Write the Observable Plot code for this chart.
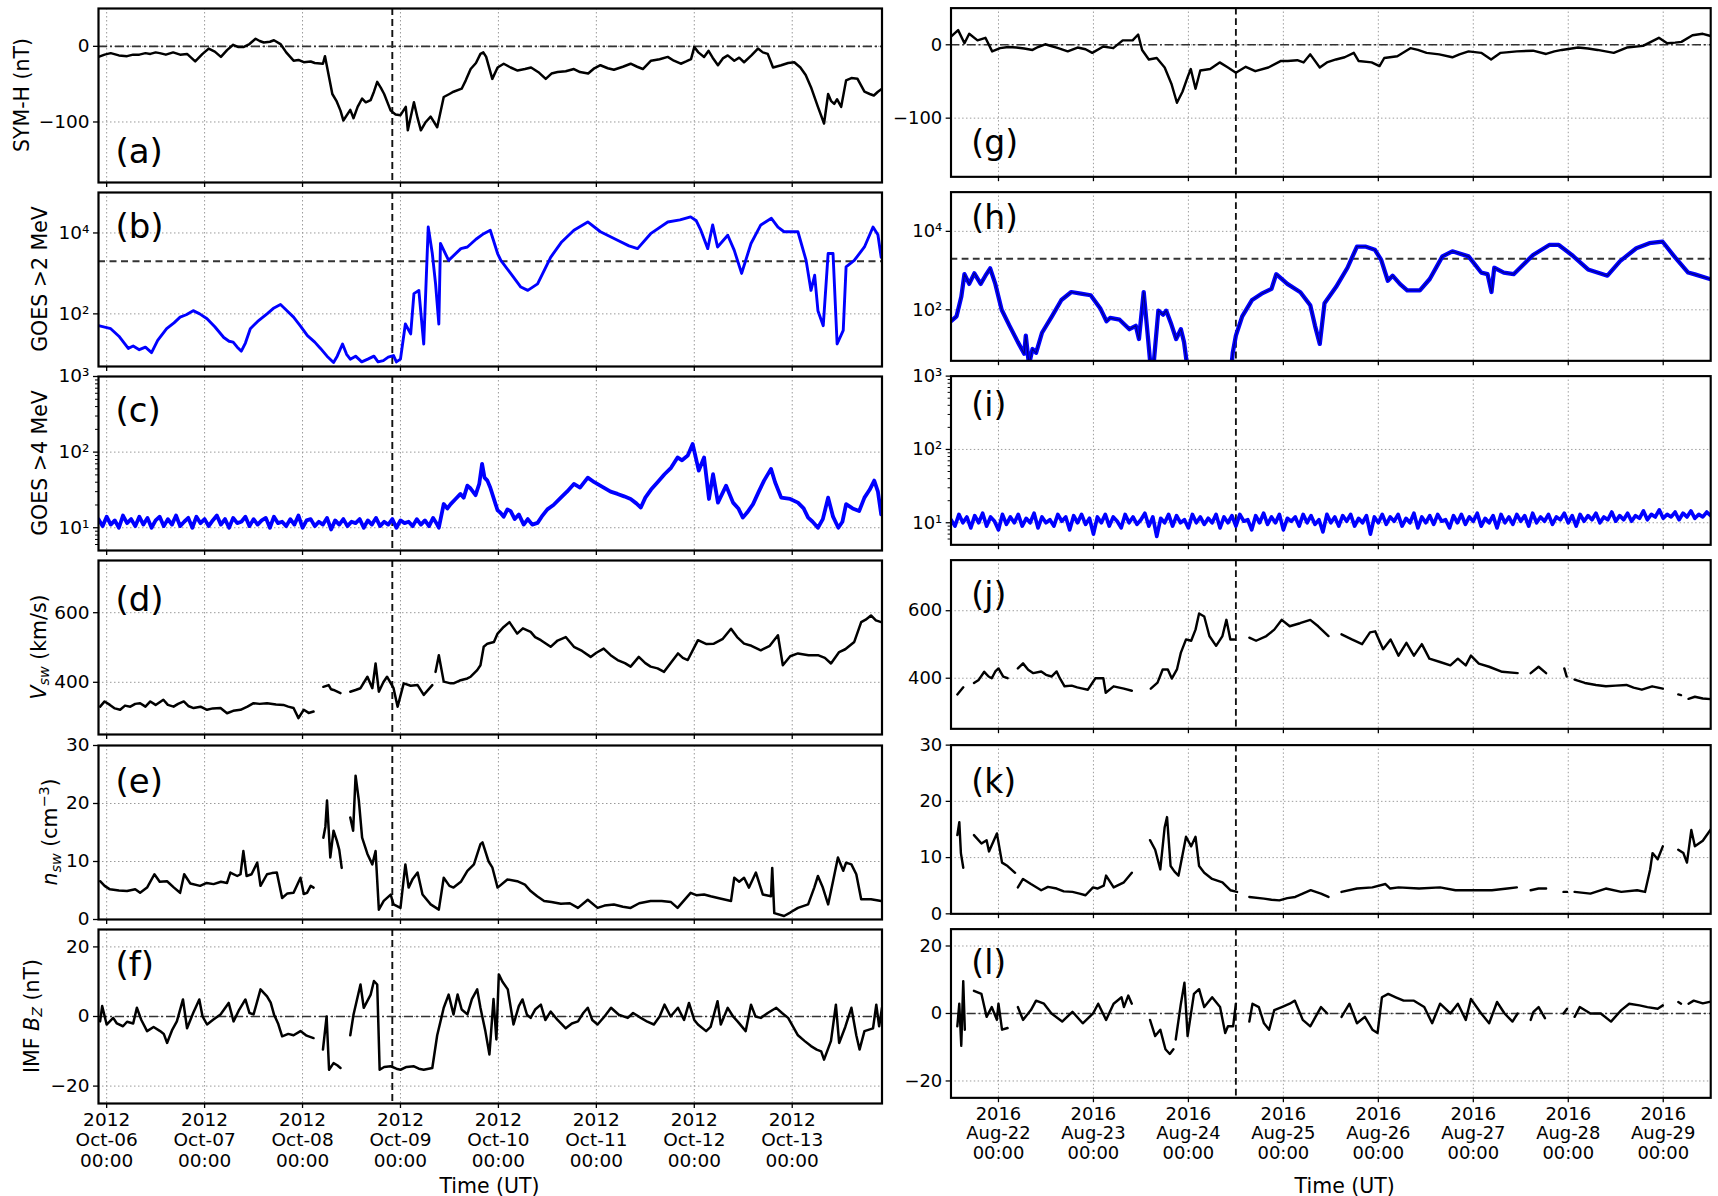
<!DOCTYPE html>
<html><head><meta charset="utf-8">
<script src="https://cdn.jsdelivr.net/npm/d3@7"></script>
<script src="https://cdn.jsdelivr.net/npm/@observablehq/plot@0.6"></script>
<style>
html,body{margin:0;padding:0;background:#fff;}
body{width:1718px;height:1196px;overflow:hidden;position:relative;font-family:"DejaVu Sans",sans-serif;color:#000;}
.panel{position:absolute;}
.ylab{position:absolute;white-space:nowrap;font-size:20.5px;line-height:1;transform:translate(-50%,-50%) rotate(-90deg);}
.xlab{position:absolute;white-space:nowrap;font-size:20.5px;line-height:1;transform:translate(-50%,-50%);}
sub{font-size:0.7em;vertical-align:-0.25em;}
sup{font-size:0.7em;vertical-align:0.55em;}
</style></head><body>
<script>
// ---------- time windows (hours are counted from the window start) ----------
const start2012 = Date.UTC(2012, 9, 5, 22);
const start2016 = Date.UTC(2016, 7, 21, 12);
const windowHours = 192;
const eventHour = 72;

// ---------- y labels / panel letters ----------
const yLabels = ["SYM-H (nT)", "GOES &gt;2 MeV", "GOES &gt;4 MeV", "<i>V</i><sub><i>sw</i></sub> (km/s)", "<i>n</i><sub><i>sw</i></sub> (cm<sup>\u22123</sup>)", "IMF <i>B</i><sub><i>Z</i></sub> (nT)"];
const lettersLeft = ["(a)", "(b)", "(c)", "(d)", "(e)", "(f)"];
const lettersRight = ["(g)", "(h)", "(i)", "(j)", "(k)", "(l)"];

// ---------- 2012 event: [hour, value] ----------
const symH_2012 = [[0,-14],[1.5,-11],[3,-9],[5,-12],[7,-13],[8.5,-11],[10,-11],[11.5,-9],[12.7,-10],[14,-8],[15,-9],[16.5,-11],[18.3,-8],[20,-11],[21.7,-10],[23.7,-20],[25.5,-10],[27,-3],[28.5,-7],[30,-14],[31.5,-5],[33,2],[34.3,-1],[35.5,-1],[37,3],[38.5,10],[39.5,7],[40.5,5],[42,6],[43,8],[44.6,3],[46,-8],[47.8,-19],[49,-18],[50.3,-21],[52,-20],[53,-22],[55,-23],[55.5,-13],[57.3,-63],[58.3,-72],[59.3,-85],[60,-98],[61.7,-84],[62.5,-95],[63.5,-80],[64.6,-69],[65.5,-74],[66.7,-71],[67.5,-60],[68.3,-47],[69.2,-55],[70,-63],[71.6,-85],[72.8,-90],[74,-91],[75.3,-80],[75.8,-111],[77.3,-74],[78.2,-95],[79,-111],[80.2,-100],[81.4,-93],[83,-107],[84.6,-67],[86,-63],[87,-60],[89,-56],[90,-45],[91.2,-30],[92.5,-22],[93.6,-10],[94.3,-8],[95,-14],[96.5,-43],[97.8,-28],[99.3,-23],[101,-28],[102.7,-32],[104.5,-30],[106,-28],[108,-35],[109.6,-43],[111,-36],[112.5,-34],[114.5,-33],[116.5,-30],[118,-34],[120,-36],[121.5,-29],[123,-25],[124.8,-29],[126.3,-31],[128.5,-27],[130.4,-23],[132,-27],[133.4,-30],[135.4,-19],[137.5,-17],[139.5,-14],[141,-19],[142.7,-23],[144,-20],[145.2,-17],[146,-1],[147,-8],[148.4,-14],[149.5,-6],[150.5,-15],[151.8,-25],[153,-16],[154.2,-12],[155.8,-19],[157,-15],[158.2,-21],[160,-12],[161.6,-3],[162.8,-8],[164,-10],[165.3,-28],[167.3,-25],[169,-22],[170.5,-21],[172,-28],[173.3,-38],[174.6,-54],[176.3,-80],[177.8,-102],[178.8,-63],[179.5,-72],[180.3,-76],[181,-70],[182,-80],[183.2,-45],[184.5,-42],[186,-43],[187.7,-60],[189,-63],[190,-65],[191,-60],[192,-56]];

const goes2_2012 = [[0,51],[1.5,47],[3,43],[5,28],[7.3,14],[8.5,16],[10,13],[11.5,15],[13,11],[14.5,22],[16.7,43],[18.5,60],[20,83],[21.5,95],[23.2,120],[24.8,100],[26.6,76],[28.5,48],[30.7,26],[32,21],[33,20],[34,15],[35,12],[36,19],[37.2,43],[39,65],[41.3,100],[43,140],[44.6,170],[46,125],[47.8,83],[49.5,50],[51.2,29],[53,20],[54.4,14],[56,9],[57.6,6.3],[58.5,9],[59.8,18],[60.8,10],[61.7,7.6],[63,9],[64.5,6.5],[66,7.6],[67.5,9],[68.5,6.5],[69.8,7],[71,8.5],[72.3,9.3],[73,6.5],[74,7.6],[75.2,56],[76.5,32],[77.3,316],[78.5,380],[79.7,18],[80.8,14000],[81.8,3100],[82.6,550],[83.4,56],[83.8,5500],[85.8,2100],[88.8,4100],[90.4,4500],[92.5,7000],[94.4,9600],[96,11700],[97.8,3100],[98.6,2100],[101,1000],[103.5,460],[105.2,380],[107.6,550],[110.8,2500],[113.5,6000],[116.5,11700],[119.9,18700],[123,10700],[127.2,6600],[130,4800],[132.1,4100],[135.3,9600],[139.5,18700],[142.5,21000],[145.1,25000],[146.5,20000],[147.6,11700],[149.3,4100],[150.5,15800],[151.7,4500],[154.2,8800],[155.8,3700],[157.6,1000],[159.9,5500],[162.3,15800],[164.9,23000],[166.5,14000],[168,10700],[171.4,10700],[173.4,2100],[174.6,380],[175.5,900],[176.3,120],[177.6,51],[178.8,3100],[180,3100],[181,18],[182.5,39],[183.2,1450],[185.2,2100],[187.7,4500],[189.8,14000],[191,9000],[191.8,2500]];

// hourly values from hour 0 to 83 (quiet, noisy part)
const goes4_2012_quiet = [13,10.5,14,11,12.5,10,14.5,11.5,13,10.5,14,11,13.5,10,12.5,14,10.5,13,11,14.5,10.5,12,13.5,10,14,11.5,13,10.5,12.5,14.5,11,13,10,13.5,11.5,12,14,10.5,13,11,12.5,13.5,10,14,11.5,12,10.5,13,11,14.5,10,12.5,13,10.5,12,11,13.5,9.5,12.5,11,13,10.5,12,11.5,13,10,12.5,11,13.5,10.5,12,11,13,10,12.5,11.5,12,10.5,13,11,12.5,10.5,13.5,11];
const goes4_2012_active = [[83.4,10],[84.6,20.6],[85.5,18],[86.3,20.5],[87.5,24],[88.7,28],[89.5,25],[90.4,36],[91.2,33],[92.4,27],[93.3,38],[94,70],[94.6,46],[95.3,42],[96,34],[97.3,20.5],[97.8,17],[98.5,15.8],[99.3,14],[100.2,17.5],[101,16.6],[102,13],[103,15],[104.2,11],[105.2,13],[106.3,11],[107.6,11.6],[108.6,14],[110,17.5],[111.5,20],[113.3,25],[114.8,30],[116.5,38],[118,34],[119.9,46],[121.5,40],[123.8,34],[125.5,30],[127.2,28],[128.8,26],[130.4,24],[131.8,21],[132.9,18.5],[134,25],[135.4,32],[137,40],[138.7,51],[140.3,62],[141.9,85],[143,78],[144.4,90],[145.6,128],[147.1,57],[148.4,85],[149.6,24],[150.6,51],[151.8,21.5],[153.8,36],[155.5,21.5],[156.8,18],[157.9,13.6],[159,16],[160.4,20.5],[161.8,30],[163.1,42],[164.8,60],[165.8,40],[167.3,25],[169.5,24],[171.4,21.5],[172.8,18],[173.9,13.6],[175,12],[176.3,10],[177.5,13],[178.8,25],[180,14],[181.3,10],[182.3,12],[183.2,20.5],[184.8,18],[186.4,16.6],[187.7,25],[189,32],[190.1,42],[191,30],[191.8,15]];

const vsw_2012 = [[0.4,330],[1.5,345],[2.8,335],[4,325],[5.3,321],[6.5,333],[7.8,330],[9,338],[10.2,340],[11.5,330],[12.7,345],[14,335],[15.9,350],[17,335],[18.4,330],[19.5,338],[20.9,345],[22,332],[23.3,326],[25,330],[26.6,321],[28,325],[29.9,326],[31.5,311],[33,318],[34.8,321],[36.5,330],[38,340],[39.5,338],[41.3,340],[43.5,336],[45.3,335],[46.5,330],[47.8,326],[49,297],[50.3,321],[51.5,312],[52.7,316],[53.5,null],[55.1,387],[56.4,392],[57,380],[57.6,378],[59.3,369],[60.2,null],[61.7,373],[63,378],[64.2,383],[65.9,416],[67.1,383],[67.9,454],[68.7,373],[69.8,400],[70.7,416],[72.3,383],[73.3,330],[74.8,397],[76.5,390],[78.2,392],[79.7,364],[81.8,392],[82.2,null],[82.6,430],[83.4,478],[84.6,402],[86.3,397],[87,397],[88.5,405],[90.4,411],[91.2,416],[92.8,435],[93.6,449],[94.4,502],[95.3,511],[96.9,516],[97.8,540],[99.3,559],[100.7,573],[102.6,540],[104,555],[105.9,545],[107,530],[108.4,521],[110.8,502],[112.5,520],[114.5,530],[116.5,502],[118.5,490],[120.6,473],[122,485],[123.8,497],[125.5,478],[127.2,464],[129,455],[130.4,445],[132.4,473],[134,455],[135.3,445],[137,440],[138.6,430],[140.5,460],[142,483],[143.2,470],[144.4,464],[146.9,521],[149,510],[150.8,511],[153,525],[155,554],[156.5,530],[158.2,511],[160,505],[162.3,492],[164.5,505],[166.5,535],[167.7,449],[169.5,475],[171.4,483],[174,478],[176.3,478],[178,470],[179.5,454],[181.5,487],[183,495],[185.2,516],[186.9,573],[188,580],[189.3,592],[190.5,578],[191.8,573]];

const nsw_2012 = [[0.4,6.6],[1.5,5.8],[2.8,5.2],[5,5],[7,4.9],[9,5.2],[10.2,4.6],[11.9,5.5],[13.7,7.8],[15,6.5],[16.8,6.6],[18.5,5.5],[20,4.6],[21,7.8],[22.5,6.2],[24.9,5.8],[26.5,6.3],[28.2,6.1],[30,6.5],[31.5,6.3],[32.3,8.1],[34,7.5],[34.8,7.8],[35.5,11.8],[36.3,7.5],[37.5,7.8],[38.9,9.8],[39.7,5.8],[41.3,7.8],[42.5,8],[43.7,8.1],[45,3.7],[46.3,4.5],[47.8,4.6],[49.5,7.2],[50.3,4.4],[51.1,4.6],[52,5.8],[52.7,5.5],[53.5,null],[55.1,14.1],[55.6,16],[56,20.5],[56.8,10.7],[57.6,15.3],[58.4,13.6],[59,12],[59.6,8.9],[60.2,null],[61.7,17.6],[62.4,15.3],[63,24.8],[63.8,20.5],[64.6,14.1],[65.9,11.3],[67.1,9.5],[67.9,11.8],[68.7,1.7],[69.9,3.2],[71.6,4.3],[72.3,2.6],[74,2],[75.2,9.5],[76,5.5],[77,7],[78.2,8.1],[79.4,4.3],[81.4,2.6],[83.4,1.7],[84.6,7.2],[86,5.8],[87,5.5],[88.8,6.5],[90.4,8.4],[92,9.5],[93.6,13],[94.1,13.3],[95.6,10],[96.5,9],[97.8,5.5],[100.2,6.9],[102.6,6.6],[104.5,6],[105.9,4.9],[107.5,4],[109.2,3.2],[111,3],[113.3,2.7],[115.5,2.8],[117.5,2],[119.9,3.4],[122.3,2],[124,2.4],[126.3,2.6],[128.5,2.2],[130.4,2],[132.5,2.8],[135.3,3.2],[138,3.2],[140.3,3],[141.9,2],[145.1,4.6],[146.5,4.2],[148.4,4.3],[150,4],[151.8,3.7],[155,3.2],[155.8,7.2],[157,6.5],[158.2,7.2],[159.4,5.5],[161.1,8.1],[162.8,4.3],[164.8,4],[165.1,8.9],[165.6,1.1],[168,0.6],[169.5,1.2],[171.4,2],[173.9,2.6],[175.4,5.5],[176.3,7.5],[177.5,5.5],[178.8,2.6],[180,6.6],[181.2,10.7],[182.5,8.4],[183.2,9.8],[184.5,9.5],[185.7,7.8],[186.9,3.5],[189.3,3.5],[191.8,3.2]];

const bz_2012 = [[0.4,-1.4],[0.9,3],[2,-2.3],[3.6,-0.4],[4.5,-2],[6,-2.8],[7,-1.5],[8.5,-2],[9.4,2.5],[10.5,-1],[11.9,-4.2],[13.5,-3],[15.1,-4.2],[16,-5],[16.8,-7.6],[18,-4],[19.2,-1.4],[20.7,4.9],[21.7,-3.4],[23.2,1],[24.7,4.9],[25.5,0],[26.6,-2.3],[28,-1],[29.9,0.6],[31.9,3.9],[33.1,-1.4],[34.5,2],[36,4.9],[37,1],[38,0.6],[39.7,7.8],[41.3,5.8],[42.2,4],[43,0.6],[44,-2],[45,-5.7],[46.5,-5],[47.8,-5.4],[49.5,-4.2],[51,-5.5],[52.7,-6.2],[53.5,null],[55,-9.5],[55.9,0],[56.5,-15.3],[57.6,-13.4],[58.5,-14],[59.3,-14.8],[60.2,null],[61.7,-5.4],[62.5,0.6],[64.2,9.2],[65,2.5],[66.7,6.3],[67.5,10.2],[68.3,9.2],[68.9,-15.3],[70,-14.5],[71.6,-14.3],[73,-15],[74,-15.3],[75.5,-14.5],[77.3,-14.3],[78.5,-15],[79.7,-15.3],[81.8,-14.8],[83,-5.4],[84.6,2.5],[85.8,6.3],[87,0.6],[88,6.3],[89,2],[90.4,0.6],[91.5,5],[92.8,7.8],[93.6,2.5],[94.8,-4.2],[95.8,-10.9],[96.8,5],[97.5,-6.6],[98.1,12.1],[99,10],[100.3,7.8],[101.7,-2.3],[103,3],[103.9,4.9],[105,0.5],[105.9,-0.4],[107,2],[108.4,3.4],[109.5,-1],[110.8,1.4],[112.5,-1],[114.5,-3.4],[116,-2],[117.5,-1.4],[118.8,1],[119.9,2.5],[121,-1],[122.3,-2.3],[124,0],[125.6,2.5],[127.5,0.5],[129.7,-0.4],[131,1],[132.9,-0.4],[134.5,-1.5],[136.1,-2.3],[137.5,0],[138.7,3.4],[140.2,0],[142,2.5],[143.5,-1],[144.7,3.9],[146,-1],[146.9,-2.3],[148.9,-4.2],[150,-3],[151.7,4.4],[152.5,-2.3],[154.2,2.5],[155.5,0],[156.6,-1.4],[158.6,-4.2],[159.9,3.4],[161,0],[162.3,-0.4],[164,1],[166.1,2.5],[167.5,1],[169,-0.4],[171.4,-5.4],[173,-7],[174.6,-8.5],[176,-9.5],[177.1,-10],[177.8,-12.4],[179.5,-7],[180.7,3.4],[181.5,-7.6],[183,-3],[184.5,2.5],[185.7,-5.4],[186.5,-9.5],[187.7,-4.2],[189.8,-3.4],[190.6,3.4],[191.3,-2.8],[192,2.5]];

// ---------- 2016 event: [hour, value] ----------
const symH_2016 = [[0,11],[1.8,20],[3.4,2],[4.6,15],[6.7,6],[8.7,9.5],[10.4,-9],[12.4,-4.6],[14.5,-3],[16.5,-3.7],[18.5,-5],[20.6,-7],[22,-3],[23.8,0.7],[25.5,-2],[27.1,-4.6],[29.5,-9],[32,-3.7],[34,-6],[35.7,-11],[38.5,-2.4],[41,-4.6],[43.4,6],[45.9,6],[47.3,14],[48.3,-7],[50,-20],[52,-18],[54,-31],[55.7,-53],[57.1,-79],[58.5,-64],[59.8,-44],[60.6,-33],[61.8,-60],[63,-35],[65.5,-33],[67.9,-24],[70,-31],[72,-38],[74.5,-30],[76.9,-36],[80.2,-31],[83.4,-22],[85.1,-22],[87.5,-21],[89.1,-24],[90.8,-13],[93.2,-31],[95,-24],[97.3,-20],[99.5,-17],[101.8,-11],[103,-22],[106.3,-24],[108.3,-29],[109.5,-18],[112.8,-15.6],[116.1,-4.6],[118,-7],[120.2,-11],[123.4,-13],[126.7,-17],[128.5,-13],[130.8,-9],[134,-11],[136.5,-20],[138.9,-11],[141,-10],[143,-9],[147.1,-8],[150.4,-12.5],[152.5,-9],[154.4,-7],[158.5,-3.7],[161,-5],[163.4,-7],[167.5,-11],[170.8,-3.7],[174.9,-1.5],[178.9,9.5],[181,2],[183,3],[184.6,4],[187.4,13],[190,15],[192,12]];

const goes2_2016 = [[0,51],[1.4,68],[2.6,214],[3.4,810],[4.6,457],[5.9,850],[7.5,457],[8.7,740],[9.9,1140],[11.2,457],[12.8,100],[14.8,39],[16.9,15],[18.5,7.6],[18.9,22],[19.7,4],[20.6,10],[21.5,8],[23,26],[25.5,68],[27.9,178],[30.4,284],[32.8,258],[35.3,235],[37.7,110],[39.3,51],[40.2,62],[42.6,56],[45.1,32],[46.7,39],[47.5,18],[48.7,284],[49.5,39],[50.4,4],[51.2,4],[52.4,95],[53.6,75],[54.4,95],[55.7,42],[56.9,18],[58.1,32],[58.9,15],[59.8,3],[70.8,3],[71.2,8],[72,22],[73.6,68],[76.1,178],[78.5,258],[81,343],[82.2,810],[85,457],[88.3,280],[90.8,130],[92,39],[93.2,13.5],[94.4,146],[97.3,380],[100.2,1180],[102.6,4100],[104.7,4100],[107.1,3400],[108.7,1900],[110.4,550],[111.6,740],[113.5,450],[115.3,314],[118.5,314],[121,610],[124.2,2300],[126.7,3100],[130.8,2300],[134,890],[135.6,810],[136.6,284],[137.3,1180],[139.7,890],[142.2,810],[147.1,2500],[151.2,4500],[153.6,4500],[156.9,2500],[161,1070],[165.9,740],[169.1,1740],[173.2,3700],[176.5,5000],[179.8,5500],[183.1,2100],[186.3,890],[188,800],[192,600]];

// hourly values from hour 0 to 192
const goes4_2016 = [11,9,13,10,12,8.5,12.5,10,13.5,9, 12,10.5,8,13,9.5,12,10,13,9,11.5, 10,13.5,8.5,12,10,11,9,13,10.5,12, 8,12.5,10,13,9.5,11.5,7,12,10,13, 9,12,10.5,8.5,13,10,12,9.5,11,13.5, 9,12,6.5,11.5,10,13,9,12.5,10,11, 8.5,13,10,12,9.5,11.5,10,13,8.5,12, 10,12.5,9,13,10.5,11,8,12.5,10,13.5, 9.5,12,10,13,8,11.5,10.5,12,9,13, 10,12.5,9.5,11,7.5,13,10,12,9,12.5, 10.5,13,9,11.5,10,12.5,7,12,10,13, 9.5,12,10.5,13,9,11.5,10,13.5,8.5,12, 10,12.5,9.5,13,10.5,11,8.5,12.5,10,13, 9.5,12,10.5,13.5,9,11.5,10,12.5,8.5,13, 10,12,9.5,13,10.5,12.5,9,13.5,10,12, 10.5,13,9.5,12,11,13.5,10,12.5,9,13, 10.5,12.5,11,13.5,10,12,11,14,10.5,12.5, 11,13.5,10.5,12.5,11.5,14.5,11,13,12,15, 11.5,13,12,14,11,13.5,12,14.5,11.5,13, 12,14,12.5];

const vsw_2016 = [[1.6,352],[3.1,373],[3.8,null],[5.8,386],[7,395],[8.4,419],[9.5,405],[10.3,400],[11.2,420],[12,429],[13.2,405],[14.3,400],[15.5,null],[16.9,429],[18.2,444],[19.5,425],[20.8,415],[22.8,420],[24,410],[25.4,405],[26.7,420],[27.5,400],[28.7,376],[30.5,378],[31.9,373],[33,370],[34.6,366],[36.5,400],[38.5,400],[39.1,357],[41.1,376],[43.7,369],[45.7,363],[46.5,null],[50.5,369],[52.2,387],[53.5,426],[54.8,426],[55.8,399],[57.1,426],[58.1,476],[59.4,515],[60.7,511],[61.8,544],[62.7,592],[64,583],[65.3,525],[67,496],[68.6,525],[69.6,573],[70.6,515],[71.6,515],[72.5,null],[75.4,520],[77.1,511],[79.7,525],[81.7,544],[83.6,573],[85.6,554],[88.2,563],[90.8,573],[92.8,554],[95.4,525],[96.5,null],[98.7,530],[101.3,515],[103.9,501],[105.9,536],[107.2,539],[109.2,486],[111.1,515],[113.1,467],[115.1,505],[117,467],[119,501],[120.9,458],[123.6,448],[126.2,438],[128.1,458],[130.1,438],[131.4,467],[133.4,443],[136,434],[139.3,419],[143.2,415],[144,null],[146.5,415],[148.5,434],[150.4,415],[151,null],[155,429],[155.6,405],[156.5,null],[157.6,396],[160.2,386],[163,380],[165.5,376],[168,378],[170.7,380],[172.5,372],[174.6,366],[177.2,376],[179.9,369],[181,null],[183.8,352],[184.5,350],[185,null],[186.4,339],[188,345],[190,340],[192,338]];

const nsw_2016 = [[1.6,14],[2.1,16.3],[2.5,10.8],[3.1,8.2],[4,null],[5.8,14],[7.7,12.5],[9,13.1],[9.6,11.1],[11.6,14.3],[12.9,9.1],[14.3,8.5],[16.2,7.3],[16.5,null],[16.9,4.7],[18.2,6.2],[20.2,5.3],[22.8,4.2],[24.5,4.8],[26.7,4.5],[28.5,4],[30.7,3.9],[32.5,3.6],[34,3.3],[35.9,4.7],[37,4.5],[38.6,5],[39.2,6.8],[41.1,4.7],[43.7,5.6],[45.7,7.3],[46.5,null],[50.3,13.1],[51.6,11.4],[52.9,7.9],[54,15.4],[54.6,17.2],[55.5,8.5],[56.5,7.5],[57.5,6.8],[59.4,13.7],[60.7,12],[61.8,13.7],[62.7,8.5],[64,7.3],[66,6.2],[68.6,5.6],[70.6,4.2],[72.3,3.9],[73,null],[75.4,3],[79.1,2.7],[81,2.5],[83,2.4],[85,2.8],[87,3],[90.9,4.2],[93.5,3.6],[95.4,3],[96.5,null],[98.7,3.9],[102.6,4.5],[106.5,4.7],[109.8,5.3],[111,4.5],[113.1,4.7],[118.3,4.5],[123.6,4.7],[127.5,4.2],[131.4,4.2],[136.7,4.2],[140.6,4.5],[143,4.7],[144,null],[146.5,4.2],[148.5,4.5],[150.4,4.5],[151,null],[154.8,3.9],[155.7,3.9],[156.5,null],[157.6,3.9],[161.6,3.6],[165.5,4.5],[169.4,3.9],[173.4,4.2],[175.4,3.9],[176.7,7.9],[177.3,10.8],[178.6,9.7],[179.9,12],[181,null],[183.8,11.4],[185.1,10.8],[186,9.1],[187.1,14.9],[188,12],[190,13],[192,15]];

const bz_2016 = [[1.6,-3.8],[2.1,2.9],[2.6,-9.6],[3.1,9.6],[3.5,-4.8],[4,null],[5.8,6.7],[7.7,5.8],[9,-1],[10.3,1.9],[11.6,-1.9],[12,2.9],[12.9,-4.8],[14.3,-4.3],[15.5,null],[16.9,1.9],[18.2,-1.9],[20.2,1],[21.5,3.8],[23.5,2.9],[25.4,0],[28.1,-2.4],[30.7,0.5],[33.3,-2.9],[35.9,0],[37.2,2.9],[39.2,-1.9],[41.1,2.9],[43.1,4.8],[43.7,1.9],[44.8,5.3],[45.7,2.9],[46.5,null],[50.3,-1.9],[51.6,-6.7],[52.9,-4.8],[54.2,-10.6],[55.3,-12],[56.2,-10.6],[56.5,null],[56.8,-7.7],[58.1,2.9],[59,9.1],[59.8,-6.7],[61.4,5.8],[62.7,7.2],[64,1.9],[66,4.8],[68,1.9],[69.3,-5.8],[70,-3.8],[71.3,-3.8],[72,2.9],[73,null],[75.4,-2.4],[76.2,2.9],[77.8,1.9],[79.1,-2.9],[80.4,-4.8],[81.7,1],[83.6,1.9],[85.6,2.9],[86.9,3.8],[88.9,-1.9],[90.8,-3.8],[93.5,1.9],[95.1,0],[96.5,null],[98.7,-1],[100.7,2.9],[102.6,-2.9],[104.6,-1],[106.5,-4.8],[107.8,-5.8],[108.9,4.8],[110.5,5.8],[112.4,4.8],[114.4,3.8],[117,3.8],[119.6,1.9],[121.6,-2.9],[123.6,2.9],[126.2,0],[128.1,2.9],[130.1,-1.9],[131.4,4.3],[134,0],[136,-2.9],[138,3.4],[139.9,0],[141.9,-2.4],[143.2,0],[144,null],[146.5,-1.9],[147.2,0.5],[148.5,1.9],[150.1,-1.4],[151,null],[154.8,0],[155.7,1.4],[156.5,null],[157.6,-1],[158.9,1.9],[161.6,0],[164.2,0],[166.8,-2.4],[169.4,1],[171.4,2.9],[174,2.4],[176,1.9],[178.6,1.4],[179.9,2.4],[181,null],[183.8,3.4],[184.5,2.9],[185.5,null],[186.4,2.9],[187.7,3.8],[190,3],[192,3.5]];

// ---------- axis settings ----------
const yTicksList = [[-100, 0], [100, 10000], [10, 100, 1000], [400, 600], [0, 10, 20, 30], [-20, 0, 20]];
const yDomains = [[-180, 50], [5, 100000], [5, 1000], [250, 750], [0, 30], [-25, 25]];
const yTypes = ["linear", "log", "log", "linear", "linear", "linear"];
const refLevels = [0, 2000, null, null, null, 0];

// ---------- build ----------
const supDigits = "\u2070\u00b9\u00b2\u00b3\u2074\u2075\u2076\u2077\u2078\u2079";
const fmtLin = v => (v < 0 ? "\u2212" + Math.abs(v) : String(v));
const fmtLog = v => "10" + supDigits[Math.round(Math.log10(v))];
const fmtX = d3.utcFormat("%Y\n%b-%d\n%H:%M");
const minorLog = [];
for (const base of [1, 10, 100]) for (let k = 2; k <= 9; k++) { const v = k * base; if (v > 5 && v < 1000) minorLog.push(v); }

const series2012 = [symH_2012, goes2_2012, goes4_2012_quiet.map((v, i) => [i, v]).concat(goes4_2012_active), vsw_2012, nsw_2012, bz_2012];
const series2016 = [symH_2016, goes2_2016, goes4_2016.map((v, i) => [i, v]), vsw_2016, nsw_2016, bz_2016];

const columns = [
  {left: 0, ml: 98, start: start2012, series: series2012, letters: lettersLeft, ldx: 17, ldy: [-30, 35, 35, 40, 37, 36], dbl: false},
  {left: 880, ml: 72.7, start: start2016, series: series2016, letters: lettersRight, ldx: 21, ldy: [-34, 27, 30, 36, 39, 35], dbl: true}
];

const FRAME_W = 783.5, FRAME_H = 174, MT = 12, MR = 8;
const rowTop = r => 7.5 + r * 184.3;

for (const col of columns) {
  const t0 = new Date(col.start), t1 = new Date(col.start + windowHours * 3600e3);
  const dayTicks = d3.utcDay.range(t0, t1);
  const ev = new Date(col.start + eventHour * 3600e3);
  const toDate = h => new Date(col.start + h * 3600e3);
  for (let r = 0; r < 6; r++) {
    const last = r === 5;
    const mb = last ? 100 : 12;
    const isLog = yTypes[r] === "log";
    const blue = r === 1 || r === 2;
    const marks = [
      Plot.gridX({ticks: dayTicks, stroke: "#9a9a9a", strokeOpacity: 1, strokeWidth: 1, strokeDasharray: "1.5,2.5"}),
      Plot.gridY({ticks: yTicksList[r], stroke: "#9a9a9a", strokeOpacity: 1, strokeWidth: 1, strokeDasharray: "1.5,2.5"}),
      Plot.ruleX([ev], {stroke: "#111", strokeWidth: 1.9, strokeDasharray: "7,4"})
    ];
    if (refLevels[r] !== null) {
      marks.push(Plot.ruleY([refLevels[r]], {stroke: "#333", strokeWidth: r === 1 ? 1.9 : 1.6, strokeDasharray: r === 1 ? "7,4.5" : "9,3,2,3"}));
    }
    const data = col.series[r];
    const lineOpts = {x: d => toDate(d[0]), y: d => d[1], clip: true, strokeLinejoin: "round"};
    if (blue) {
      if (r === 1 && col.dbl) {
        marks.push(Plot.line(data, {...lineOpts, stroke: "#0000ff", strokeWidth: 4.4}));
        marks.push(Plot.line(data, {...lineOpts, stroke: "#000080", strokeWidth: 1.1}));
      } else {
        marks.push(Plot.line(data, {...lineOpts, stroke: "#0000ff", strokeWidth: r === 2 ? 3.8 : 2.9}));
      }
    } else {
      marks.push(Plot.line(data, {...lineOpts, stroke: "#000", strokeWidth: 2.5}));
    }
    marks.push(Plot.axisY({ticks: yTicksList[r], tickSize: 5, tickPadding: 4, tickFormat: isLog ? fmtLog : fmtLin, label: null, fontSize: 18.5, strokeWidth: 1.3}));
    if (r === 2) marks.push(Plot.axisY({ticks: minorLog, tickSize: 3, tickFormat: () => "", label: null, strokeWidth: 1}));
    marks.push(Plot.axisX({ticks: dayTicks, tickSize: 5, tickPadding: 3, tickFormat: last ? fmtX : () => "", label: null, fontSize: 18.5, lineHeight: 1.1, strokeWidth: 1.3}));
    marks.push(Plot.frame({stroke: "#000", strokeWidth: 2.2}));
    marks.push(Plot.text([col.letters[r]], {text: d => d, frameAnchor: r === 0 ? "bottom-left" : "top-left", dx: col.ldx, dy: col.ldy[r], textAnchor: "start", lineAnchor: "middle", fontSize: 34, fill: "#000"}));

    const chart = Plot.plot({
      width: col.ml + FRAME_W + MR,
      height: MT + FRAME_H + mb,
      marginLeft: col.ml, marginRight: MR, marginTop: MT, marginBottom: mb,
      x: {type: "utc", domain: [t0, t1]},
      y: {type: yTypes[r], domain: yDomains[r]},
      style: {fontFamily: "DejaVu Sans", fontSize: "18.5px", color: "#000", background: "transparent", overflow: "visible"},
      marks
    });
    const wrap = document.createElement("div");
    wrap.className = "panel";
    wrap.style.left = col.left + "px";
    wrap.style.top = (rowTop(r) - MT) + "px";
    wrap.appendChild(chart);
    document.body.appendChild(wrap);
  }
}

// y labels (left column only)
const yLabelX = [22, 39.5, 39.5, 40, 50, 33];
yLabels.forEach((html, r) => {
  const d = document.createElement("div");
  d.className = "ylab";
  d.innerHTML = html;
  d.style.left = yLabelX[r] + "px";
  d.style.top = (rowTop(r) + FRAME_H / 2) + "px";
  document.body.appendChild(d);
});
// x axis titles
[[489.5, 1185.5], [1344.7, 1185.5]].forEach(([x, y]) => {
  const d = document.createElement("div");
  d.className = "xlab";
  d.textContent = "Time (UT)";
  d.style.left = x + "px";
  d.style.top = y + "px";
  document.body.appendChild(d);
});
</script>
</body></html>
